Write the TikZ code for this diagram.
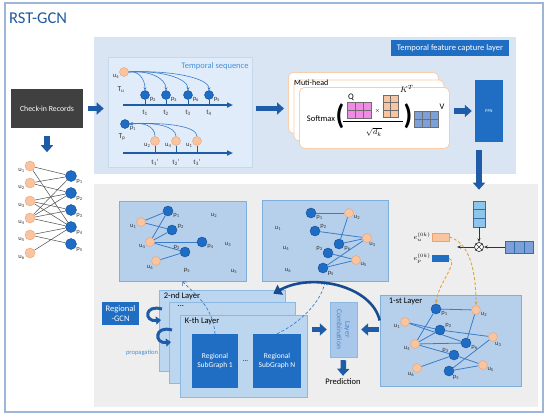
\documentclass[tikz,border=0pt]{standalone}
\usepackage{fontspec}
\setmainfont{Carlito}
\usetikzlibrary{arrows.meta, positioning, calc, backgrounds}
\definecolor{FrameBlue}{RGB}{157, 181, 214}
\definecolor{TitleBlue}{RGB}{31, 90, 158}
\definecolor{PanelBlue}{RGB}{218, 229, 243}
\definecolor{PanelGray}{RGB}{238, 238, 238}
\definecolor{SeqFill}{RGB}{224, 236, 249}
\definecolor{SeqEdge}{RGB}{197, 217, 238}
\definecolor{SeqText}{RGB}{74, 144, 217}
\definecolor{BoxBlue}{RGB}{31, 110, 196}
\definecolor{ArrowBlue}{RGB}{30, 92, 168}
\definecolor{ArrowDark}{RGB}{25, 75, 145}
\definecolor{NodeBlue}{RGB}{30, 108, 196}
\definecolor{NodeBlueDk}{RGB}{20, 80, 150}
\definecolor{NodeOrange}{RGB}{249, 196, 160}
\definecolor{NodeOrangeDk}{RGB}{240, 160, 110}
\definecolor{SgFill}{RGB}{182, 208, 236}
\definecolor{SgEdge}{RGB}{125, 175, 218}
\definecolor{EdgeBlue}{RGB}{58, 124, 200}
\definecolor{LayerFill}{RGB}{188, 214, 240}
\definecolor{LayerEdge}{RGB}{140, 185, 225}
\definecolor{CombFill}{RGB}{168, 199, 234}
\definecolor{CombText}{RGB}{80, 130, 195}
\definecolor{CheckGray}{RGB}{64, 64, 64}
\definecolor{QPink}{RGB}{240, 140, 230}
\definecolor{KTan}{RGB}{249, 196, 160}
\definecolor{VBlue}{RGB}{125, 160, 216}
\definecolor{GridLine}{RGB}{110, 110, 110}
\definecolor{CardEdge}{RGB}{248, 205, 170}
\definecolor{DashOrange}{RGB}{225, 165, 50}
\definecolor{CellBlue}{RGB}{142, 197, 234}
\definecolor{CellEdge}{RGB}{47, 111, 175}

\pgfdeclarelayer{back}
\pgfdeclarelayer{mid}
\pgfsetlayers{back,mid,main}

\newcommand{\pnm}[1]{p\textsubscript{#1}}
\newcommand{\unm}[1]{u\textsubscript{#1}}
\newcommand{\matcells}[6]{%
  \foreach \c in {1,...,#3}
    \foreach \r in {1,...,#4}
      \draw[fill=#6, draw=GridLine, line width=0.4pt]
        ({#1+(\c-1)*#5},{#2+(\r-1)*#5}) rectangle +(#5,#5);
}

\tikzset{
  unode/.style={circle, fill=NodeOrange, draw=NodeOrangeDk, line width=0.4pt,
    minimum size=9pt, inner sep=0pt},
  pnode/.style={circle, fill=NodeBlue, draw=NodeBlueDk, line width=0.4pt,
    minimum size=10pt, inner sep=0pt},
  lbl/.style={font=\fontsize{6.5}{7}\selectfont, inner sep=0.3pt, text=black!80},
  txt/.style={font=\fontsize{8.5}{9.5}\selectfont, inner sep=1pt},
  darkbox/.style={fill=BoxBlue, text=white, align=center, inner sep=1pt},
  sgbox/.style={fill=SgFill, draw=SgEdge, line width=0.6pt},
  layerbox/.style={fill=LayerFill, draw=LayerEdge, line width=0.6pt,
    minimum width=126pt, minimum height=81pt},
  card/.style={rounded corners=5pt, draw=CardEdge, fill=white, line width=0.8pt,
    minimum width=150pt, minimum height=61pt},
  blockarrow/.style={draw=ArrowBlue, line width=5.5pt,
    -{Triangle[length=7pt, width=12pt]}},
  tline/.style={draw=ArrowBlue, line width=1.6pt,
    -{Triangle[length=6pt, width=5pt]}},
  tick/.style={draw=ArrowBlue, line width=0.8pt},
  seqarrow/.style={draw=EdgeBlue, line width=0.6pt, -{Stealth[length=3pt, width=3pt]}},
  seqback/.style={draw=EdgeBlue, line width=0.6pt, {Stealth[length=3pt, width=3pt]}-},
  bline/.style={draw=black!70, line width=0.5pt},
  gline/.style={draw=EdgeBlue, line width=0.8pt},
  thinarrow/.style={draw=black!80, line width=0.8pt, -{Stealth[length=4pt]}},
  dasharrow/.style={draw=DashOrange, line width=0.9pt, dash pattern=on 3pt off 2pt,
    -{Stealth[length=4pt]}},
  bluedash/.style={draw=EdgeBlue, line width=0.7pt, dash pattern=on 3pt off 2pt,
    -{Straight Barb[length=3pt]}},
  uturn/.style={draw=ArrowBlue, line width=3pt, -{Triangle[length=5pt, width=8pt]}},
  bigcurve/.style={draw=ArrowDark, line width=2.6pt, -{Triangle[length=8pt, width=11pt]}},
}

\begin{document}
\begin{tikzpicture}[x=1pt, y=-1pt]
  \useasboundingbox (0,0) rectangle (550,418);

  % frame and title
  \draw[FrameBlue, line width=1.2pt] (5,3) rectangle (543,412);
  \node[anchor=west, text=TitleBlue, font=\fontsize{16.5}{18}\selectfont, inner sep=0pt]
    (title) at (9,18) {RST-GCN};

  % panels and graph boxes
  \begin{pgfonlayer}{back}
    \fill[PanelBlue] (94,37) rectangle (516,174);
    \fill[PanelGray] (94,184) rectangle (538,407);
    \node[fill=SeqFill, draw=SeqEdge, line width=0.6pt,
      minimum width=144pt, minimum height=110pt] (tseq) at (180,112) {};
    \node[sgbox, minimum width=127pt, minimum height=80pt] (sg1) at (182.5,241) {};
    \node[sgbox, minimum width=126pt, minimum height=81pt] (sg2) at (325,240.5) {};
    \node[sgbox, minimum width=141pt, minimum height=91pt] (lay1) at (450.5,340.5) {};
  \end{pgfonlayer}

  \node[darkbox, font=\fontsize{8.5}{9.5}\selectfont, minimum width=118pt, minimum height=16pt]
    (tfcl) at (450,48) {Temporal feature capture layer};

  % check-in records and bipartite graph
  \node[fill=CheckGray, text=white, font=\fontsize{7.8}{9}\selectfont,
    minimum width=72pt, minimum height=39pt] (checkin) at (47,108.5) {Check-in Records};
  \draw[blockarrow] ([yshift=-8pt]checkin.south) -- ++(0,16);
  \foreach \i/\y in {1/166,2/183,3/201,4/218,5/235,6/253}
    \node[unode, minimum size=10pt, label={[lbl]200:\unm{\i}}] (bu\i) at (30,\y) {};
  \foreach \i/\y in {1/176,2/193,3/210,4/227,5/244}
    \node[pnode, minimum size=11pt, label={[lbl]-30:\pnm{\i}}] (bp\i) at (71,\y) {};
  \begin{pgfonlayer}{mid}
    \foreach \a/\b in {1/1,1/4,2/1,2/2,3/2,3/3,3/4,4/1,4/2,4/3,4/4,5/4,5/5,6/4}
      \draw[bline] (bu\a) -- (bp\b);
  \end{pgfonlayer}

  % temporal sequence
  \node[txt, text=SeqText] (seqtitle) at (215,66) {Temporal sequence};
  \node[unode, label={[lbl]-160:\unm{4}}] (su4) at (124,72) {};
  \node[lbl, font=\fontsize{7.5}{8}\selectfont] (tu) at (121,90) {T\textsubscript{u}};
  \coordinate (tl1s) at (123,105);
  \coordinate (tl1e) at (233,105);
  \draw[tline] (tl1s) -- (tl1e);
  \foreach \n/\x/\t in {2/145/1,3/166/2,6/188/3,5/209/4} {
    \node[pnode, minimum size=9pt, label={[lbl]-25:\pnm{\n}}] (sp\n) at (\x,95) {};
    \draw[seqarrow] (su4.east) .. controls +({(\x-129)*0.55},-2) and +(0,-12) .. (sp\n.north);
    \draw[tick] (sp\n.south) -- (sp\n.south |- tl1s);
    \node[lbl, font=\fontsize{7}{8}\selectfont] (st\t) at (\x,113) {t\textsubscript{\t}};
  }
  \node[pnode, minimum size=9pt, label={[lbl]-25:\pnm{1}}] (tp1) at (125,124) {};
  \node[lbl, font=\fontsize{7.5}{8}\selectfont] (tpl) at (122,137) {T\textsubscript{p}};
  \coordinate (tl2s) at (123,153);
  \coordinate (tl2e) at (233,153);
  \draw[tline] (tl2s) -- (tl2e);
  \foreach \n/\x/\t in {2/155/1,4/176/2,1/197/3} {
    \node[unode, label={[lbl]210:\unm{\n}}] (tu\n) at (\x,141) {};
    \draw[seqback] (tp1.east) .. controls +({(\x-130)*0.55},-2) and +(0,-10) .. (tu\n.north);
    \draw[tick] (tu\n.south) -- (tu\n.south |- tl2s);
    \node[lbl, font=\fontsize{7}{8}\selectfont] (tt\t) at (\x,163) {t\textsubscript{\t}'};
  }

  % multi-head attention
  \foreach \nm/\x/\y in {headc/288/72, headb/293.5/79.5, heada/299/87}
    \node[card, anchor=north west] (\nm) at (\x,\y) {};
  \node[txt, anchor=west, font=\fontsize{8}{9}\selectfont] (mhead) at (293,82.5) {Muti-head};
  \node[txt] (softmax) at (321,119) {Softmax};
  \node[font=\fontsize{28}{28}\selectfont\bfseries, inner sep=0pt] (lpar) at (340,116) {(};
  \node[font=\fontsize{28}{28}\selectfont\bfseries, inner sep=0pt] (rpar) at (408,116) {)};
  \matcells{347}{102}{3}{2}{8}{QPink}
  \matcells{383}{95}{2}{3}{7.5}{KTan}
  \matcells{414}{111}{3}{2}{8}{VBlue}
  \node[txt] (qlbl) at (351,97) {Q};
  \node[txt, font=\fontsize{6.5}{7}\selectfont] (times) at (377.5,111) {$\times$};
  \node[txt] (klbl) at (407,89) {$K^T$};
  \node[txt] (vlbl) at (442,107) {V};
  \draw[line width=0.6pt] (343,121) -- (403,121);
  \node[txt] (sqdk) at (374,132) {$\sqrt{d_k}$};

  \node[darkbox, font=\fontsize{4.5}{5}\selectfont, minimum width=28pt, minimum height=62pt]
    (ffn) at (489,111) {FFN};

  % main flow arrows
  \draw[blockarrow] ([xshift=5pt]checkin.east) -- ([xshift=-4pt]checkin.east -| tseq.west);
  \draw[blockarrow] ([xshift=4pt]checkin.east -| tseq.east) -- ([xshift=-4pt]checkin.east -| headc.west);
  \draw[blockarrow] ([xshift=4pt]heada.east |- ffn.west) -- ([xshift=-3pt]ffn.west);

  % embedding fusion
  \node[fill=CellBlue, draw=CellEdge, line width=0.6pt, inner sep=0pt,
    minimum width=12pt, minimum height=26pt] (kvec) at (479,214) {};
  \foreach \f in {1/3,2/3}
    \draw[CellEdge, line width=0.5pt] ($(kvec.north west)!\f!(kvec.south west)$)
      -- ($(kvec.north east)!\f!(kvec.south east)$);
  \node[fill=VBlue, draw=CellEdge, line width=0.6pt, inner sep=0pt,
    minimum width=28pt, minimum height=12pt] (hvec) at (519,247) {};
  \foreach \f in {1/3,2/3}
    \draw[CellEdge, line width=0.5pt] ($(hvec.north west)!\f!(hvec.north east)$)
      -- ($(hvec.south west)!\f!(hvec.south east)$);
  \draw[blockarrow] ([yshift=-8pt]ffn.south -| kvec.north) -- ([yshift=11pt]kvec.north);
  \node[circle, draw=black!80, fill=white, line width=0.7pt, inner sep=0pt,
    minimum size=9pt] (otimes) at (479,247) {};
  \draw[black!80, line width=0.6pt] (otimes.45) -- (otimes.225) (otimes.135) -- (otimes.-45);
  \coordinate (otleft) at (457,247);
  \draw[thinarrow] (kvec.south) -- (otimes.north);
  \draw[thinarrow] (hvec.west) -- (otimes.east);
  \draw[thinarrow] (otimes.west) -- (otleft);
  \node[fill=NodeOrange, draw=NodeOrangeDk, line width=0.5pt, inner sep=0pt,
    minimum width=17pt, minimum height=8pt] (eu) at (440.5,237) {};
  \node[fill=BoxBlue, inner sep=0pt, minimum width=17pt, minimum height=7.5pt]
    (ep) at (440.5,258.5) {};
  \node[anchor=east, font=\fontsize{7}{8}\selectfont, inner sep=1pt] (eulbl) at (eu.west) {$e_u^{(0k)}$};
  \node[anchor=east, font=\fontsize{7}{8}\selectfont, inner sep=1pt] (eplbl) at (ep.west) {$e_p^{(0k)}$};

  % 1-st layer graph
  \node[txt, anchor=north west] (l1lbl) at ([xshift=8pt,yshift=-2pt]lay1.north west) {1-st Layer};
  \foreach \nm/\x/\y/\a/\t in {p1/436/309/-20/\pnm{1}, p2/440/330/20/\pnm{2},
      p6/466/343/-20/\pnm{6}, p3/454/355/160/\pnm{3}, p5/449/371/-50/\pnm{5}}
    \node[pnode, label={[lbl]\a:\t}] (l\nm) at (\x,\y) {};
  \foreach \nm/\x/\y/\a/\t in {u2/476/310/-20/\unm{2}, u1/405/322/200/\unm{1},
      u3/493/337/-70/\unm{3}, u4/415/344/200/\unm{4}, u6/417/368/-120/\unm{6},
      u5/483/365/-30/\unm{5}}
    \node[unode, label={[lbl]\a:\t}] (l\nm) at (\x,\y) {};
  \begin{pgfonlayer}{mid}
    \foreach \a/\b in {p1/u2,p1/u4,u1/p2,p2/u3,u4/p2,u4/p6,u4/p3,p3/u5,u2/p6,
        u3/p5,u6/p3,p5/u5,u1/p6}
      \draw[gline] (l\a) -- (l\b);
  \end{pgfonlayer}
  \draw[dasharrow] (eu.east) .. controls +(22,6) and +(0,-30) .. (lu2.north);
  \draw[dasharrow] (ep.east) .. controls +(10,3) and +(2,-20) .. (lp1.north);

  % regional subgraph 1
  \foreach \nm/\x/\y/\a/\t in {p1/168/211/-20/\pnm{1}, p2/172/230/10/\pnm{2},
      p4/202/242/-20/\pnm{4}, p3/185/252/155/\pnm{3}}
    \node[pnode, label={[lbl]\a:\t}] (a\nm) at (\x,\y) {};
  \foreach \nm/\x/\y/\a/\t in {u1/141/222/210/\unm{1}, u4/150/242/210/\unm{4},
      u6/156/261/-120/\unm{6}}
    \node[unode, label={[lbl]\a:\t}] (a\nm) at (\x,\y) {};
  \foreach \nm/\x/\y/\t in {u2/214/215/\unm{2}, u3/228/244/\unm{3},
      p5/187/270/\pnm{5}, u5/234/271/\unm{5}}
    \node[lbl] (a\nm) at (\x,\y) {\t};
  \begin{pgfonlayer}{mid}
    \foreach \a/\b in {u1/p1,u1/p2,u4/p1,u4/p2,u4/p4,u4/p3,u6/p3}
      \draw[gline] (a\a) -- (a\b);
  \end{pgfonlayer}

  % regional subgraph 2
  \foreach \nm/\x/\y/\a/\t in {p1/311/213/-20/\pnm{1}, p2/315/231/20/\pnm{2},
      p6/339/244/-20/\pnm{6}, p3/328/253/160/\pnm{3}, p5/323/268/-35/\pnm{5}}
    \node[pnode, label={[lbl]\a:\t}] (b\nm) at (\x,\y) {};
  \foreach \nm/\x/\y/\a/\t in {u2/349/213/-20/\unm{2}, u3/367/238/-65/\unm{3},
      u5/356/260/-30/\unm{5}}
    \node[unode, label={[lbl]\a:\t}] (b\nm) at (\x,\y) {};
  \foreach \nm/\x/\y/\t in {u1/278/228/\unm{1}, u4/286/248/\unm{4}, u6/288/270/\unm{6}}
    \node[lbl] (b\nm) at (\x,\y) {\t};
  \begin{pgfonlayer}{mid}
    \foreach \a/\b in {p1/u2,u2/p6,p2/u3,p6/u3,u3/p5,p3/u5,p5/u5}
      \draw[gline] (b\a) -- (b\b);
  \end{pgfonlayer}

  % layer stack
  \node[layerbox] (lay2) at (222,330.5) {};
  \node[layerbox] (laym) at (232.75,343.25) {};
  \node[layerbox, minimum width=127pt, minimum height=82pt] (layk) at (243.5,356) {};
  \node[txt, anchor=north west] (lay2lbl) at ([xshift=4pt,yshift=-2pt]lay2.north west) {2-nd Layer};
  \node[txt, anchor=north west] (laymlbl) at ([xshift=7pt,yshift=-2pt]laym.north west) {...};
  \node[txt, anchor=north west] (layklbl) at ([xshift=4pt,yshift=-2pt]layk.north west) {K-th Layer};
  \node[darkbox, font=\fontsize{7.5}{9}\selectfont, minimum width=46pt, minimum height=54pt]
    (rs1) at (215,361) {Regional\\SubGraph 1};
  \node[darkbox, font=\fontsize{7.5}{9}\selectfont, minimum width=48pt, minimum height=54pt]
    (rsn) at (277,361) {Regional\\SubGraph N};
  \node[txt, font=\fontsize{7}{8}\selectfont] (rdots) at ($(rs1.east)!0.5!(rsn.west)$) {...};
  \draw[bluedash] (rs1.north) .. controls (213,305) and (192,292) .. (sg1.south);
  \draw[bluedash] (rsn.north) .. controls (302,322) and (322,300) .. (sg2.south);

  \node[darkbox, font=\fontsize{8.5}{9.5}\selectfont, minimum width=37pt, minimum height=23pt]
    (rgcn) at (120.5,313.5) {Regional\\-GCN};
  \coordinate (ut1s) at (162,309);
  \coordinate (ut1e) at (161,320);
  \coordinate (ut2s) at (172,330);
  \coordinate (ut2e) at (171,342);
  \draw[uturn] (ut1s) .. controls (144,304) and (144,322) .. (ut1e);
  \draw[uturn] (ut2s) .. controls (154,325) and (154,344) .. (ut2e);
  \node[txt, text=SeqText, font=\fontsize{6.5}{7}\selectfont] (prop) at (142,353) {propagation};

  \draw[bigcurve] ([yshift=20pt]lay1.west) .. controls (372,286) and (312,272)
    .. ([xshift=-12pt,yshift=-4pt]lay2.north east);

  % layer combination and prediction
  \node[fill=CombFill, draw=LayerEdge, line width=0.4pt, minimum width=27pt,
    minimum height=55pt] (comb) at (343.5,329.5) {};
  \node[txt, text=CombText, rotate=-90, align=center, font=\fontsize{7.5}{8.5}\selectfont]
    (combtxt) at (comb.center) {Layer\\Combination};
  \node[txt, font=\fontsize{8.5}{9.5}\selectfont] (pred) at (343,382) {Prediction};
  \draw[blockarrow] ([xshift=-1pt]lay1.west |- comb.center) -- ([xshift=4pt]comb.east);
  \draw[blockarrow] ([xshift=5pt]layk.east |- comb.center) -- ([xshift=-3pt]comb.west);
  \draw[blockarrow] ([yshift=-3pt]comb.south) -- ([yshift=2pt]pred.north);
\end{tikzpicture}
\end{document}
